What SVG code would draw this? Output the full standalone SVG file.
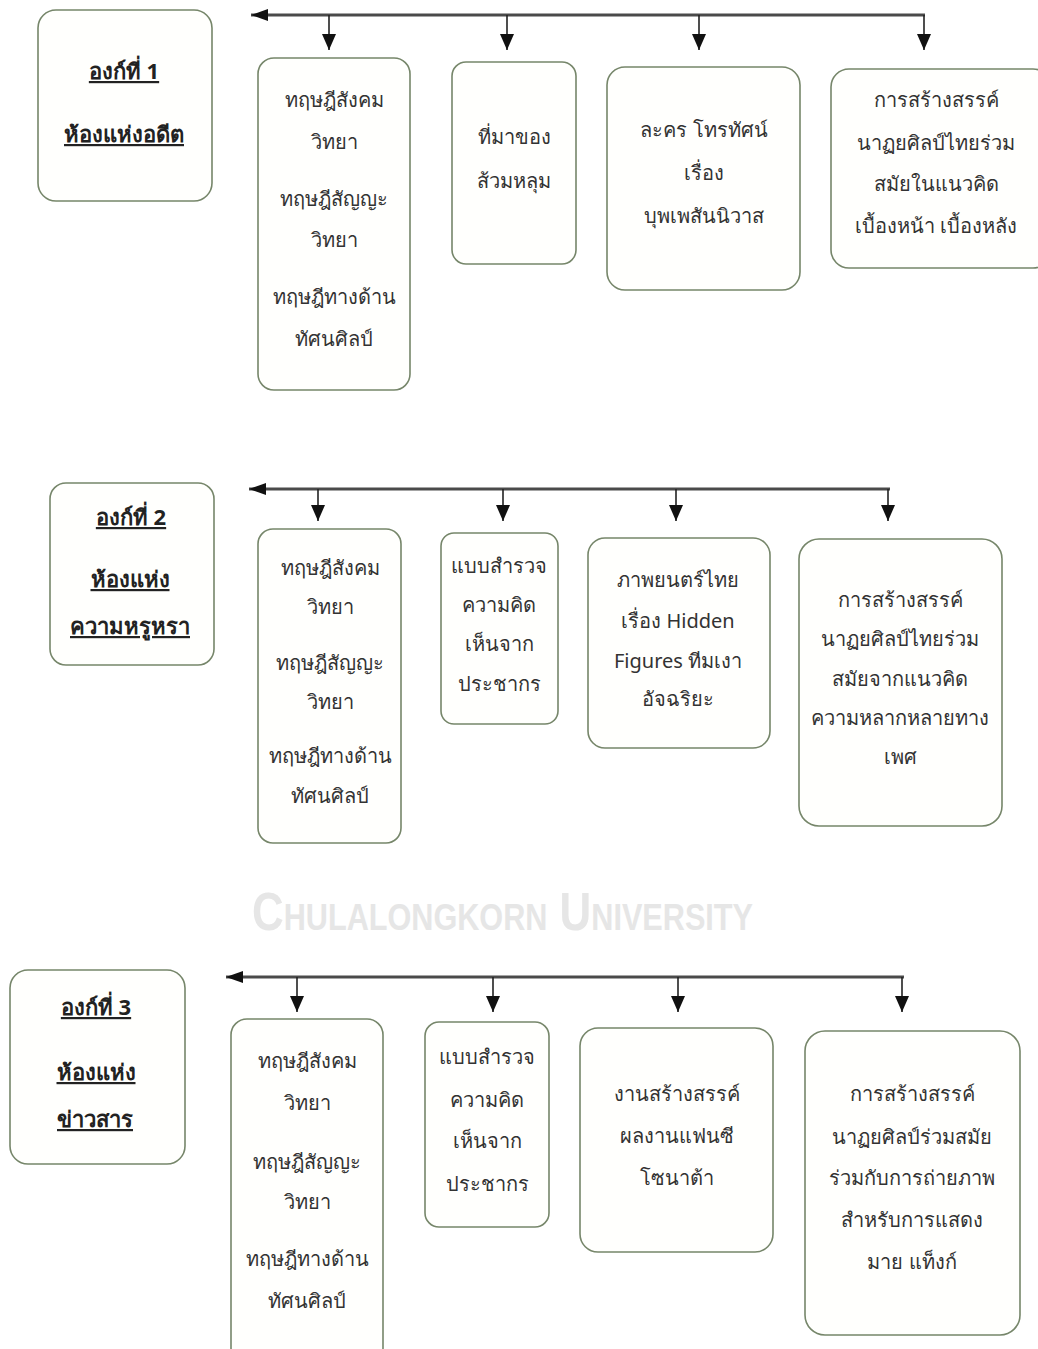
<svg xmlns="http://www.w3.org/2000/svg" width="1038" height="1349" viewBox="0 0 1038 1349">
<style>
.box{fill:#fffffd;stroke:#76866a;stroke-width:1.6}
.t{font-family:"Noto Sans","DejaVu Sans",sans-serif;font-size:20px;fill:#333;text-anchor:middle}
.h{font-family:"Noto Sans","DejaVu Sans",sans-serif;font-size:22px;fill:#222;text-anchor:middle;font-weight:bold;text-decoration:underline}
.bar{stroke:#4a4a4a;stroke-width:3;fill:none}
.drop{stroke:#222;stroke-width:1.6;fill:none}
.wm{font-family:"Liberation Sans Narrow","Liberation Sans",sans-serif;font-weight:bold;fill:#e6e6e6;font-variant:small-caps}
</style>
<defs>
<marker id="ad" markerUnits="userSpaceOnUse" markerWidth="14" markerHeight="16" refX="7" refY="16" orient="0" viewBox="0 0 14 16"><path d="M0,0 L14,0 L7,16 Z" fill="#111"/></marker>
<marker id="al" markerUnits="userSpaceOnUse" markerWidth="17" markerHeight="12" refX="0" refY="6" orient="0" viewBox="0 0 17 12"><path d="M17,0 L17,12 L0,6 Z" fill="#111"/></marker>
</defs>

<g id="watermark">
<text class="wm" x="252" y="930" font-size="53" textLength="501" lengthAdjust="spacingAndGlyphs">Chulalongkorn University</text>
</g>

<g id="connectors">
<path class="bar" d="M925,15 L251,15" marker-end="url(#al)"/>
<path class="drop" d="M329,15 V50" marker-end="url(#ad)"/>
<path class="drop" d="M507,15 V50" marker-end="url(#ad)"/>
<path class="drop" d="M699,15 V50" marker-end="url(#ad)"/>
<path class="drop" d="M924,15 V50" marker-end="url(#ad)"/>

<path class="bar" d="M890,489 L249,489" marker-end="url(#al)"/>
<path class="drop" d="M318,489 V521" marker-end="url(#ad)"/>
<path class="drop" d="M503,489 V521" marker-end="url(#ad)"/>
<path class="drop" d="M676,489 V521" marker-end="url(#ad)"/>
<path class="drop" d="M888,489 V521" marker-end="url(#ad)"/>

<path class="bar" d="M904,977 L226,977" marker-end="url(#al)"/>
<path class="drop" d="M297,977 V1012" marker-end="url(#ad)"/>
<path class="drop" d="M493,977 V1012" marker-end="url(#ad)"/>
<path class="drop" d="M678,977 V1012" marker-end="url(#ad)"/>
<path class="drop" d="M902,977 V1012" marker-end="url(#ad)"/>
</g>

<g id="act1">
<rect class="box" x="38" y="10" width="174" height="191" rx="18"/>
<text class="h" x="124" y="79">องก์ที่ 1</text>
<text class="h" x="124" y="142">ห้องแห่งอดีต</text>
</g>
<g id="a1">
<rect class="box" x="258" y="58" width="152" height="332" rx="16"/>
<text class="t" x="334" y="107">ทฤษฎีสังคม</text>
<text class="t" x="334" y="149">วิทยา</text>
<text class="t" x="334" y="206">ทฤษฎีสัญญะ</text>
<text class="t" x="334" y="247">วิทยา</text>
<text class="t" x="334" y="304">ทฤษฎีทางด้าน</text>
<text class="t" x="334" y="346">ทัศนศิลป์</text>
</g>
<g id="a2">
<rect class="box" x="452" y="62" width="124" height="202" rx="14"/>
<text class="t" x="514" y="144">ที่มาของ</text>
<text class="t" x="514" y="188">ส้วมหลุม</text>
</g>
<g id="a3">
<rect class="box" x="607" y="67" width="193" height="223" rx="18"/>
<text class="t" x="704" y="137">ละคร โทรทัศน์</text>
<text class="t" x="704" y="180">เรื่อง</text>
<text class="t" x="704" y="223">บุพเพสันนิวาส</text>
</g>
<g id="a4">
<rect class="box" x="831" y="69" width="220" height="199" rx="18"/>
<text class="t" x="936" y="107">การสร้างสรรค์</text>
<text class="t" x="936" y="150">นาฏยศิลป์ไทยร่วม</text>
<text class="t" x="936" y="191">สมัยในแนวคิด</text>
<text class="t" x="936" y="233">เบื้องหน้า เบื้องหลัง</text>
</g>

<g id="act2">
<rect class="box" x="50" y="483" width="164" height="182" rx="16"/>
<text class="h" x="131" y="525">องก์ที่ 2</text>
<text class="h" x="130" y="587">ห้องแห่ง</text>
<text class="h" x="130" y="634">ความหรูหรา</text>
</g>
<g id="b1">
<rect class="box" x="258" y="529" width="143" height="314" rx="15"/>
<text class="t" x="330" y="575">ทฤษฎีสังคม</text>
<text class="t" x="330" y="614">วิทยา</text>
<text class="t" x="330" y="670">ทฤษฎีสัญญะ</text>
<text class="t" x="330" y="709">วิทยา</text>
<text class="t" x="330" y="763">ทฤษฎีทางด้าน</text>
<text class="t" x="330" y="803">ทัศนศิลป์</text>
</g>
<g id="b2">
<rect class="box" x="441" y="533" width="117" height="191" rx="13"/>
<text class="t" x="499" y="573">แบบสำรวจ</text>
<text class="t" x="499" y="612">ความคิด</text>
<text class="t" x="499" y="651">เห็นจาก</text>
<text class="t" x="499" y="691">ประชากร</text>
</g>
<g id="b3">
<rect class="box" x="588" y="538" width="182" height="210" rx="17"/>
<text class="t" x="678" y="587">ภาพยนตร์ไทย</text>
<text class="t" x="678" y="628">เรื่อง Hidden</text>
<text class="t" x="678" y="668">Figures ทีมเงา</text>
<text class="t" x="678" y="706">อัจฉริยะ</text>
</g>
<g id="b4">
<rect class="box" x="799" y="539" width="203" height="287" rx="20"/>
<text class="t" x="900" y="607">การสร้างสรรค์</text>
<text class="t" x="900" y="646">นาฏยศิลป์ไทยร่วม</text>
<text class="t" x="900" y="686">สมัยจากแนวคิด</text>
<text class="t" x="900" y="725">ความหลากหลายทาง</text>
<text class="t" x="900" y="764">เพศ</text>
</g>

<g id="act3">
<rect class="box" x="10" y="970" width="175" height="194" rx="18"/>
<text class="h" x="96" y="1015">องก์ที่ 3</text>
<text class="h" x="96" y="1080">ห้องแห่ง</text>
<text class="h" x="95" y="1127">ข่าวสาร</text>
</g>
<g id="c1">
<rect class="box" x="231" y="1019" width="152" height="345" rx="16"/>
<text class="t" x="307" y="1068">ทฤษฎีสังคม</text>
<text class="t" x="307" y="1110">วิทยา</text>
<text class="t" x="307" y="1169">ทฤษฎีสัญญะ</text>
<text class="t" x="307" y="1209">วิทยา</text>
<text class="t" x="307" y="1266">ทฤษฎีทางด้าน</text>
<text class="t" x="307" y="1308">ทัศนศิลป์</text>
</g>
<g id="c2">
<rect class="box" x="425" y="1022" width="124" height="205" rx="14"/>
<text class="t" x="487" y="1064">แบบสำรวจ</text>
<text class="t" x="487" y="1107">ความคิด</text>
<text class="t" x="487" y="1148">เห็นจาก</text>
<text class="t" x="487" y="1191">ประชากร</text>
</g>
<g id="c3">
<rect class="box" x="580" y="1028" width="193" height="224" rx="18"/>
<text class="t" x="677" y="1101">งานสร้างสรรค์</text>
<text class="t" x="677" y="1143">ผลงานแฟนซี</text>
<text class="t" x="677" y="1185">โซนาต้า</text>
</g>
<g id="c4">
<rect class="box" x="805" y="1031" width="215" height="304" rx="20"/>
<text class="t" x="912" y="1101">การสร้างสรรค์</text>
<text class="t" x="912" y="1144">นาฏยศิลป์ร่วมสมัย</text>
<text class="t" x="912" y="1185">ร่วมกับการถ่ายภาพ</text>
<text class="t" x="912" y="1227">สำหรับการแสดง</text>
<text class="t" x="912" y="1269">มาย แท็งก์</text>
</g>
</svg>
